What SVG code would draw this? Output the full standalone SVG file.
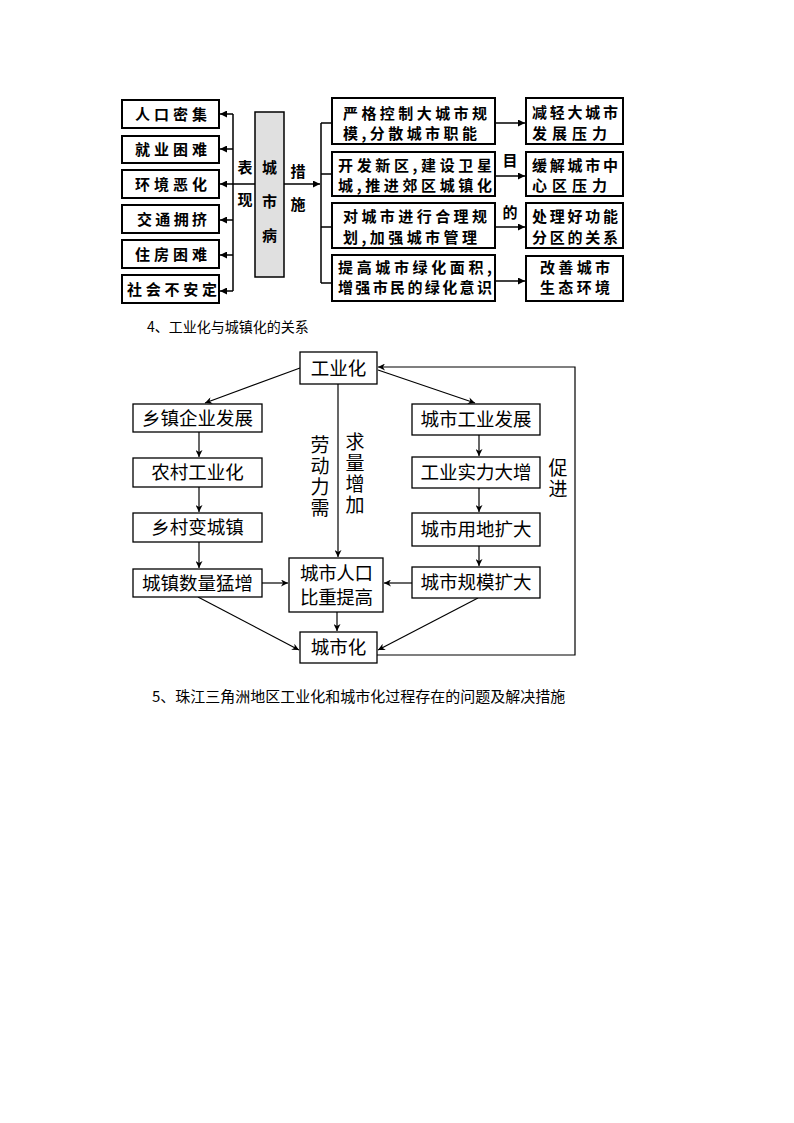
<svg xmlns="http://www.w3.org/2000/svg" width="794" height="1123" viewBox="0 0 794 1123">
<style>
.b{fill:#fff;stroke:#000;stroke-width:2}
.g{fill:#e0e0e0;stroke:#000;stroke-width:1.5}
.b2{fill:#fff;stroke:#000;stroke-width:1.3}
.t{font-family:"Noto Sans CJK SC","Liberation Sans",sans-serif;font-size:15px;font-weight:bold;fill:#000}
.u{font-family:"Noto Sans CJK SC","Liberation Sans",sans-serif;font-size:18.5px;fill:#000;text-anchor:middle}
.v{font-family:"Noto Sans CJK SC","Liberation Sans",sans-serif;font-size:19px;fill:#000;writing-mode:vertical-rl;letter-spacing:2px}
.h{font-family:"Noto Sans CJK SC","Liberation Sans",sans-serif;fill:#000}
.l{stroke:#000;stroke-width:1.5;fill:none}
.l2{stroke:#000;stroke-width:1.2;fill:none}
</style>
<defs>
<marker id="a" viewBox="0 0 10 10" refX="10" refY="5" markerWidth="9" markerHeight="7" markerUnits="userSpaceOnUse" orient="auto"><path d="M0,0L10,5L0,10z" fill="#000"/></marker>
<marker id="a2" viewBox="0 0 10 10" refX="10" refY="5" markerWidth="11" markerHeight="7" markerUnits="userSpaceOnUse" orient="auto"><path d="M0,0L10,5L0,10L3,5z" fill="#000"/></marker>
</defs>

<!-- Top diagram connectors -->
<g id="top-connectors">
<path class="l" d="M233,114V291M255,184H233"/>
<path class="l" marker-end="url(#a)" d="M233,114H220"/>
<path class="l" marker-end="url(#a)" d="M233,149H220"/>
<path class="l" marker-end="url(#a)" d="M233,184H220"/>
<path class="l" marker-end="url(#a)" d="M233,220H220"/>
<path class="l" marker-end="url(#a)" d="M233,255H220"/>
<path class="l" marker-end="url(#a)" d="M233,291H220"/>
<path class="l" marker-end="url(#a)" d="M284,184H320"/>
<path class="l" d="M321,123V283M321,123H332M321,174H332M321,227H332M321,283H332"/>
<path class="l" marker-end="url(#a)" d="M495,123H525"/>
<path class="l" marker-end="url(#a)" d="M495,176H525"/>
<path class="l" marker-end="url(#a)" d="M495,227H525"/>
<path class="l" marker-end="url(#a)" d="M495,281H525"/>
<text class="t" x="245" y="173" text-anchor="middle">表</text>
<text class="t" x="245" y="205" text-anchor="middle">现</text>
<text class="t" x="298" y="177" text-anchor="middle">措</text>
<text class="t" x="298" y="210" text-anchor="middle">施</text>
<text class="t" x="510" y="166" text-anchor="middle">目</text>
<text class="t" x="510" y="218" text-anchor="middle">的</text>
</g>

<g id="n-renkou"><rect class="b" x="122" y="100" width="97" height="28"/><text class="t" x="135" y="119.5" textLength="72" lengthAdjust="spacing">人口密集</text></g>
<g id="n-jiuye"><rect class="b" x="122" y="136" width="97" height="27"/><text class="t" x="135" y="155" textLength="72" lengthAdjust="spacing">就业困难</text></g>
<g id="n-huanjing"><rect class="b" x="122" y="170" width="97" height="28"/><text class="t" x="135" y="189.5" textLength="72" lengthAdjust="spacing">环境恶化</text></g>
<g id="n-jiaotong"><rect class="b" x="122" y="205" width="97" height="28"/><text class="t" x="137" y="224.5" textLength="70" lengthAdjust="spacing">交通拥挤</text></g>
<g id="n-zhufang"><rect class="b" x="122" y="240" width="97" height="28"/><text class="t" x="135" y="259.5" textLength="72" lengthAdjust="spacing">住房困难</text></g>
<g id="n-shehui"><rect class="b" x="122" y="275" width="97" height="28"/><text class="t" x="127" y="294.5" textLength="90" lengthAdjust="spacing">社会不安定</text></g>

<g id="n-chengshibing"><rect class="g" x="255" y="112" width="29" height="165"/>
<text class="t" x="269.5" y="173" text-anchor="middle">城</text>
<text class="t" x="269.5" y="207" text-anchor="middle">市</text>
<text class="t" x="269.5" y="241" text-anchor="middle">病</text></g>

<g id="n-m1"><rect class="b" x="332" y="98" width="163" height="46"/><text class="t" x="343" y="118.5" textLength="144" lengthAdjust="spacing">严格控制大城市规</text><text class="t" x="343" y="138.5" textLength="134" lengthAdjust="spacing">模,分散城市职能</text></g>
<g id="n-m2"><rect class="b" x="332" y="152" width="163" height="44"/><text class="t" x="338" y="170.5" textLength="154" lengthAdjust="spacing">开发新区,建设卫星</text><text class="t" x="338" y="190.5" textLength="154" lengthAdjust="spacing">城,推进郊区城镇化</text></g>
<g id="n-m3"><rect class="b" x="332" y="203" width="163" height="45"/><text class="t" x="343" y="221.5" textLength="144" lengthAdjust="spacing">对城市进行合理规</text><text class="t" x="343" y="242.5" textLength="134" lengthAdjust="spacing">划,加强城市管理</text></g>
<g id="n-m4"><rect class="b" x="332" y="255" width="163" height="46"/><text class="t" x="338" y="272.5" textLength="154" lengthAdjust="spacing">提高城市绿化面积,</text><text class="t" x="338" y="292.5" textLength="154" lengthAdjust="spacing">增强市民的绿化意识</text></g>

<g id="n-r1"><rect class="b" x="526" y="98" width="97" height="46"/><text class="t" x="532" y="117.5" textLength="86" lengthAdjust="spacing">减轻大城市</text><text class="t" x="532" y="138.5" textLength="75" lengthAdjust="spacing">发展压力</text></g>
<g id="n-r2"><rect class="b" x="526" y="152" width="97" height="44"/><text class="t" x="532" y="170.5" textLength="86" lengthAdjust="spacing">缓解城市中</text><text class="t" x="532" y="190.5" textLength="75" lengthAdjust="spacing">心区压力</text></g>
<g id="n-r3"><rect class="b" x="526" y="203" width="97" height="45"/><text class="t" x="532" y="221.5" textLength="86" lengthAdjust="spacing">处理好功能</text><text class="t" x="532" y="242.5" textLength="86" lengthAdjust="spacing">分区的关系</text></g>
<g id="n-r4"><rect class="b" x="526" y="256" width="97" height="45"/><text class="t" x="540" y="272.5" textLength="70" lengthAdjust="spacing">改善城市</text><text class="t" x="540" y="292.5" textLength="70" lengthAdjust="spacing">生态环境</text></g>

<text class="h" x="147" y="332" font-size="14">4、工业化与城镇化的关系</text>

<!-- Bottom diagram connectors -->
<g id="bottom-connectors">
<path class="l2" marker-end="url(#a2)" d="M300,368L205,403"/>
<path class="l2" marker-end="url(#a2)" d="M378,370L475,403"/>
<path class="l2" marker-end="url(#a2)" d="M338,384V557"/>
<path class="l2" marker-end="url(#a2)" d="M199,432V457"/>
<path class="l2" marker-end="url(#a2)" d="M199,487V512"/>
<path class="l2" marker-end="url(#a2)" d="M199,542V568"/>
<path class="l2" marker-end="url(#a2)" d="M479,435V456"/>
<path class="l2" marker-end="url(#a2)" d="M479,488V512"/>
<path class="l2" marker-end="url(#a2)" d="M479,546V566"/>
<path class="l2" marker-end="url(#a2)" d="M262,583H288"/>
<path class="l2" marker-end="url(#a2)" d="M412,583H384"/>
<path class="l2" marker-end="url(#a2)" d="M337,612V631"/>
<path class="l2" marker-end="url(#a2)" d="M198,597L299,650"/>
<path class="l2" marker-end="url(#a2)" d="M478,598L378,650"/>
<path class="l2" marker-end="url(#a2)" d="M377,655H575V367H378"/>
<text class="v" x="320" y="435">劳动力需</text>
<text class="v" x="355" y="432">求量增加</text>
<text class="v" x="558" y="458">促进</text>
</g>

<g id="n-gyh"><rect class="b2" x="300" y="352" width="77" height="32"/><text class="u" x="338.5" y="374.5">工业化</text></g>
<g id="n-xzqy"><rect class="b2" x="133" y="404" width="129" height="28"/><text class="u" x="197.5" y="424.5">乡镇企业发展</text></g>
<g id="n-ncgyh"><rect class="b2" x="133" y="458" width="129" height="29"/><text class="u" x="197.5" y="479">农村工业化</text></g>
<g id="n-xcbcz"><rect class="b2" x="133" y="513" width="129" height="29"/><text class="u" x="197.5" y="534">乡村变城镇</text></g>
<g id="n-czsl"><rect class="b2" x="133" y="569" width="129" height="28"/><text class="u" x="197.5" y="589.5">城镇数量猛增</text></g>
<g id="n-csrk"><rect class="b2" x="289" y="558" width="94" height="54"/><text class="u" x="336.5" y="580" font-size="17px" textLength="73" lengthAdjust="spacing">城市人口</text><text class="u" x="336.5" y="603.5" font-size="17px" textLength="73" lengthAdjust="spacing">比重提高</text></g>
<g id="n-csh"><rect class="b2" x="300" y="632" width="77" height="31"/><text class="u" x="338.5" y="654">城市化</text></g>
<g id="n-csgy"><rect class="b2" x="412" y="404" width="128" height="31"/><text class="u" x="476" y="426">城市工业发展</text></g>
<g id="n-gysl"><rect class="b2" x="412" y="457" width="128" height="31"/><text class="u" x="476" y="479">工业实力大增</text></g>
<g id="n-csyd"><rect class="b2" x="412" y="513" width="128" height="33"/><text class="u" x="476" y="536">城市用地扩大</text></g>
<g id="n-csgm"><rect class="b2" x="412" y="567" width="128" height="31"/><text class="u" x="476" y="589">城市规模扩大</text></g>

<text class="h" x="152" y="702" font-size="15">5、珠江三角洲地区工业化和城市化过程存在的问题及解决措施</text>
</svg>
